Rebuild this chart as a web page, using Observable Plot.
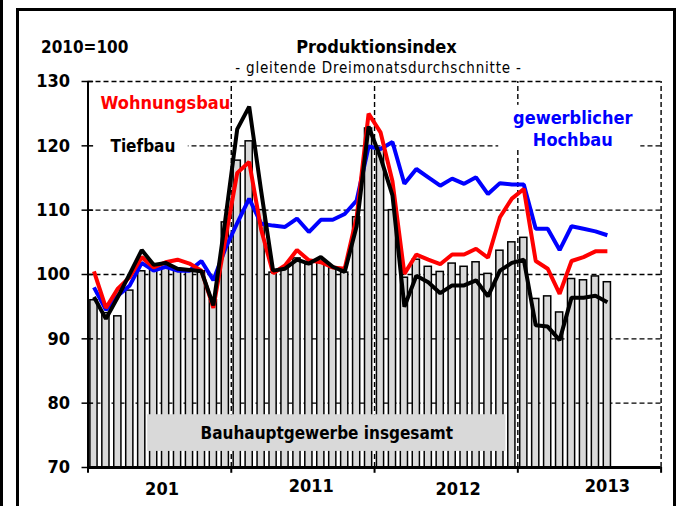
<!DOCTYPE html>
<html><head><meta charset="utf-8">
<script src="https://cdn.jsdelivr.net/npm/d3@7"></script>
<script src="https://cdn.jsdelivr.net/npm/@observablehq/plot@0.6"></script>
<style>
body{margin:0;background:#fff;}
#wrap{position:relative;width:691px;height:506px;overflow:hidden;}
#edge{position:absolute;left:0;top:0;width:3px;height:506px;background:#000;}
#frame{position:absolute;left:16px;top:8px;width:660px;height:501px;border:3px solid #000;box-sizing:border-box;pointer-events:none;}
#chart{position:absolute;left:0;top:0;}
.sub text{letter-spacing:0.8px;}
</style></head>
<body><div id="wrap"><div id="edge"></div><div id="chart"></div><div id="frame"></div></div>
<script>
// month index: 0 = Jan 2010 ... 43 = Aug 2013
const monthIndex = d3.range(44);
const gesamt = [96,94,93.5,97.5,100.5,101,101,100.8,100.8,100.5,96,108.1,117.7,120.7,110,100.3,101,102.5,101.5,102,101,100.3,108.9,122.7,119.5,110,99.5,102.3,101.2,100.4,101.7,101.2,101.9,100.1,103.7,105,105.7,96.2,96.6,94.1,99.3,99.1,99.7,98.8];
const wohnungsbau = [100.5,94.8,97.8,99.6,102.7,101.1,101.9,102.3,101.7,100.6,94.8,105.5,115.8,117.5,107,100.2,101.4,103.8,102.2,101.9,101.1,100.9,108.9,125,122.1,114.5,100.1,103.1,102.3,101.6,103.1,103.1,104,102.6,108.9,111.8,113.3,102.1,100.9,97,102.1,102.7,103.6,103.6];
const tiefbau = [96.5,93.1,96.5,100.1,103.8,101.5,101.8,100.9,100.7,100.5,95.2,108.5,122.6,126.1,113,100.6,100.9,102.3,101.7,102.7,101.2,100.4,107.5,123,118.2,112.3,95,99.8,98.8,97.1,98.3,98.3,99.1,96.6,100.6,101.8,102.3,92.1,91.9,89.8,96.4,96.4,96.7,95.7];
const hochbau = [98,94.5,96.7,98.3,101.8,100.6,101.2,100.6,100.6,102.1,99.1,104,108,111.8,107.9,107.6,107.4,108.7,106.6,108.5,108.5,109.4,111.5,119.9,119.5,120.6,114.1,116.4,115.1,113.8,114.9,114.1,115.1,112.5,114.2,114,114,107.1,107.1,103.8,107.5,107.1,106.7,106.1];
const yearBounds = [11.5, 23.5, 35.5, 47.5];
const yearLabels = ["201", "2011", "2012", "2013"];
const yearLabelPos = [5.7, 18.2, 30.5, 43.0];
const yearLabelY = [66.6, 67.05, 66.6, 67.05];
const yTicks = [70, 80, 90, 100, 110, 120, 130];

const data = monthIndex.map((m, i) => ({m, g: gesamt[i], w: wohnungsbau[i], t: tiefbau[i], h: hochbau[i]}));
const years = yearLabels.map((label, i) => ({label, x: yearLabelPos[i], y: yearLabelY[i]}));
const FONT = "DejaVu Sans Condensed, Liberation Sans Narrow, sans-serif";
const dash = {stroke: "#000", strokeWidth: 1.4, strokeDasharray: "5,3"};

const chart = Plot.plot({
  width: 691, height: 506,
  marginLeft: 87.5, marginRight: 30.4, marginTop: 81, marginBottom: 39,
  style: {fontFamily: FONT, background: "transparent"},
  x: {domain: [-0.5, 47.5], axis: null},
  y: {domain: [70, 130], axis: null},
  marks: [
    Plot.ruleY(yTicks.slice(1), dash),
    Plot.ruleX(yearBounds, {...dash, y1: 70, y2: 130}),
    Plot.rectY(data, {x1: d => d.m - 0.3, x2: d => d.m + 0.3, y1: 70, y2: "g", fill: "#d9d9d9", stroke: "#000", strokeWidth: 1.5}),
    // label backgrounds
    Plot.rect([{x1: -0.45, x2: 7.9, y1: 117.7, y2: 122.0}], {x1: "x1", x2: "x2", y1: "y1", y2: "y2", fill: "#fff"}),
    Plot.rect([{x1: 33.9, x2: 45.8, y1: 119.3, y2: 126.3}], {x1: "x1", x2: "x2", y1: "y1", y2: "y2", fill: "#fff"}),
    Plot.rect([{x1: 4.5, x2: 34.5, y1: 72.5, y2: 78.2}], {x1: "x1", x2: "x2", y1: "y1", y2: "y2", fill: "#d9d9d9"}),
    Plot.text(["Bauhauptgewerbe insgesamt"], {x: 19.5, y: 75.3, fontSize: 17, fontWeight: "bold", fill: "#000"}),
    // lines
    Plot.line(data, {x: "m", y: "h", stroke: "#0000ff", strokeWidth: 4, strokeLinejoin: "miter", strokeLinecap: "butt"}),
    Plot.line(data, {x: "m", y: "w", stroke: "#ff0000", strokeWidth: 4, strokeLinejoin: "miter", strokeLinecap: "butt"}),
    Plot.line(data, {x: "m", y: "t", stroke: "#000", strokeWidth: 4, strokeLinejoin: "miter", strokeLinecap: "butt"}),
    // series labels
    Plot.text(["Wohnungsbau"], {x: 0.55, y: 126.6, textAnchor: "start", fontSize: 18, fontWeight: "bold", fill: "#ff0000"}),
    Plot.text(["Tiefbau"], {x: 1.38, y: 119.9, textAnchor: "start", fontSize: 17, fontWeight: "bold", fill: "#000"}),
    Plot.text(["gewerblicher"], {x: 40.1, y: 124.3, fontSize: 18, fontWeight: "bold", fill: "#0000ff"}),
    Plot.text(["Hochbau"], {x: 40.1, y: 120.8, fontSize: 18, fontWeight: "bold", fill: "#0000ff"}),
    // axes
    Plot.ruleX([-0.5], {y1: 70, y2: 130, stroke: "#000", strokeWidth: 2}),
    Plot.ruleY(yTicks, {x1: -1.0, x2: -0.03, stroke: "#000", strokeWidth: 1.5}),
    Plot.text(yTicks, {x: -0.5, y: d => d, text: d => String(d), dx: -18, textAnchor: "end", fontSize: 18, fontWeight: "bold", fill: "#000"}),
    Plot.ruleY([70], {x1: -0.5, x2: 47.5, stroke: "#000", strokeWidth: 3}),
    Plot.ruleX([-0.5, ...yearBounds], {y1: 70, y2: 69.1, stroke: "#000", strokeWidth: 2}),
    Plot.text(years, {x: "x", y: "y", text: "label", fontSize: 18, fontWeight: "bold", fill: "#000"}),
    // titles
    Plot.text(["2010=100"], {frameAnchor: "top-left", dx: -47, dy: -41, textAnchor: "start", fontSize: 17, fontWeight: "bold", fill: "#000"}),
    Plot.text(["Produktionsindex"], {frameAnchor: "top-left", dx: 288.5, dy: -41, textAnchor: "middle", fontSize: 18, fontWeight: "bold", fill: "#000"}),
    Plot.text(["- gleitende Dreimonatsdurchschnitte -"], {frameAnchor: "top-left", dx: 290.5, dy: -19, textAnchor: "middle", fontSize: 15, fill: "#000", className: "sub"})
  ]
});
document.getElementById("chart").appendChild(chart);
</script></body></html>
